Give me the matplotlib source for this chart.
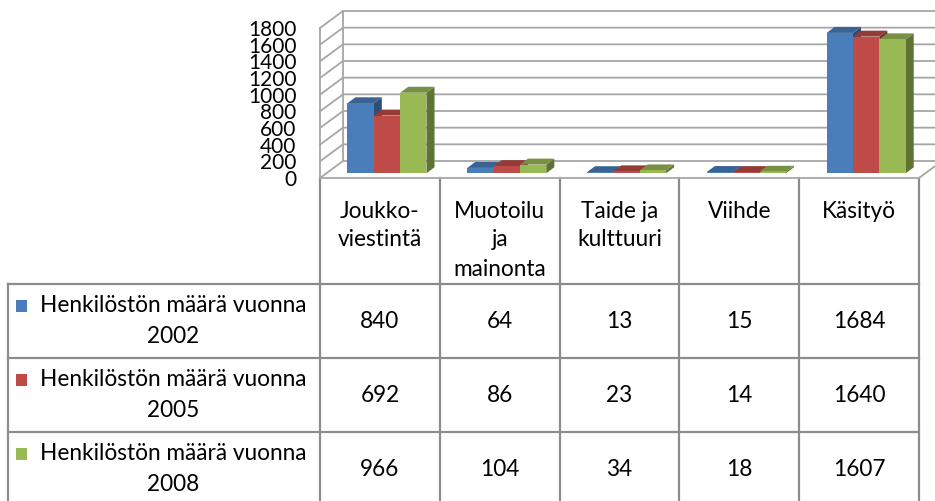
import matplotlib
matplotlib.use('Agg')
import matplotlib.pyplot as plt
import matplotlib.colors as mcolors
from matplotlib.patches import Polygon, Rectangle

plt.rcParams['font.family'] = ['Lato', 'DejaVu Sans']

# data
categories = ['Joukko-\nviestintä', 'Muotoilu\nja\nmainonta', 'Taide ja\nkulttuuri', 'Viihde', 'Käsityö']
series_labels = ['Henkilöstön määrä vuonna\n2002',
                 'Henkilöstön määrä vuonna\n2005',
                 'Henkilöstön määrä vuonna\n2008']
values_2002 = [840, 64, 13, 15, 1684]
values_2005 = [692, 86, 23, 14, 1640]
values_2008 = [966, 104, 34, 18, 1607]
series_values = [values_2002, values_2005, values_2008]
series_colors = ['#4A7EBB', '#BE4B48', '#98B954']
y_ticks = list(range(0, 2000, 200))

FS = 16.3
W, H = 935, 501
fig = plt.figure(figsize=(W / 100, H / 100), dpi=100)

# canvas for the data table (pixel units, y down)
tab = fig.add_axes([0, 0, 1, 1])
tab.set_xlim(0, W)
tab.set_ylim(H, 0)
tab.axis('off')

# front plane of the 3d box
x0, x1, y0, y1 = 320, 919, 178, 28
n = len(categories)
ax = fig.add_axes([x0 / W, 1 - y0 / H, (x1 - x0) / W, (y0 - y1) / H])
ax.set_xlim(0, n)
ax.set_ylim(0, 1800)
ax.patch.set_visible(False)
for s in ax.spines.values():
    s.set_visible(False)
ax.set_xticks([])
ax.set_yticks(y_ticks)
ax.set_yticklabels([str(t) for t in y_ticks], fontsize=15)
ax.tick_params(axis='y', length=0, pad=17)

# depth of the box in data units
DX = 23 / ((x1 - x0) / n)
DY = 17 / ((y0 - y1) / 1800)

grid_c = '#a6a6a6'
for v in y_ticks:
    ax.plot([0, DX, n + DX], [v, v + DY, v + DY], color=grid_c, lw=1.3,
            clip_on=False, zorder=1)
ax.plot([DX, DX], [DY, 1800 + DY], color=grid_c, lw=1.3, clip_on=False, zorder=1)
ax.plot([0, 0], [0, 1800], color=grid_c, lw=1.3, clip_on=False, zorder=1)
ax.plot([0, n, n + DX], [0, 0, DY], color=grid_c, lw=1.3, clip_on=False, zorder=1)


def shade(c, f):
    r, g, b = mcolors.to_rgb(c)
    return (r * f, g * f, b * f)


# 3d columns
bw = 0.22
g0 = 0.175
d0, d1 = 0.28, 0.63
ddx, ddy = (d1 - d0) * DX, (d1 - d0) * DY
for j, (vals, c) in enumerate(zip(series_values, series_colors)):
    xs = [i + g0 + j * bw + d0 * DX for i in range(n)]
    z = 2 + 2 * j
    for xa, v in zip(xs, vals):
        xb = xa + bw
        ya, yb = d0 * DY, v + d0 * DY
        ax.add_patch(Polygon([(xb, ya), (xb + ddx, ya + ddy), (xb + ddx, yb + ddy), (xb, yb)],
                             closed=True, fc=shade(c, 0.62), ec='none', clip_on=False, zorder=z))
        ax.add_patch(Polygon([(xa, yb), (xb, yb), (xb + ddx, yb + ddy), (xa + ddx, yb + ddy)],
                             closed=True, fc=shade(c, 0.78), ec='none', clip_on=False, zorder=z))
    bars = ax.bar(xs, vals, width=bw, bottom=d0 * DY, align='edge', color=c, zorder=z + 1)
    for p in bars:
        p.set_clip_on(False)

# data table
line_c = '#8c8c8c'
col_edges = [x0 + k * (x1 - x0) / n for k in range(n + 1)]
row_edges = [284, 358, 432, 506]
tab_left = 8
for xc in col_edges:
    tab.plot([xc, xc], [y0, H], color=line_c, lw=1.6)
for yr in row_edges[:-1]:
    tab.plot([tab_left, x1], [yr, yr], color=line_c, lw=1.6)
tab.plot([tab_left, tab_left], [row_edges[0], H], color=line_c, lw=1.6)

for i, cat in enumerate(categories):
    cx = (col_edges[i] + col_edges[i + 1]) / 2
    for k, line in enumerate(cat.split('\n')):
        tab.text(cx, 211 + 29 * k, line, ha='center', va='center', fontsize=FS)

for j, (lab, vals, c) in enumerate(zip(series_labels, series_values, series_colors)):
    yc = (row_edges[j] + row_edges[j + 1]) / 2
    lines = lab.split('\n')
    for k, line in enumerate(lines):
        tab.text(173, yc - 15.5 + 31 * k, line, ha='center', va='center', fontsize=FS)
    tab.add_patch(Rectangle((16, yc - 15.5 - 6), 11, 12, fc=c, ec='none'))
    for i, v in enumerate(vals):
        cx = (col_edges[i] + col_edges[i + 1]) / 2
        tab.text(cx, yc, str(v), ha='center', va='center', fontsize=FS)

fig.savefig('out.png', dpi=100)
